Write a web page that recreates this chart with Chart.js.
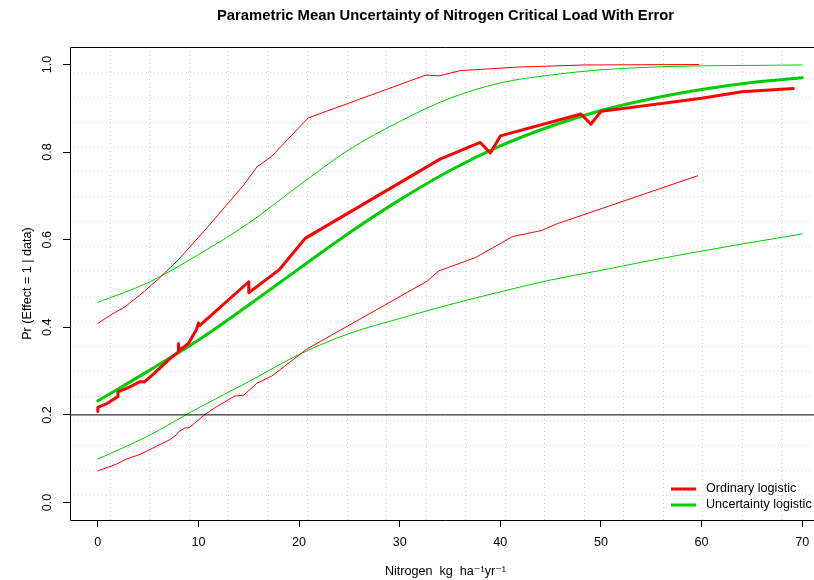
<!DOCTYPE html>
<html>
<head>
<meta charset="utf-8">
<script src="https://cdn.jsdelivr.net/npm/chart.js@4.4.0/dist/chart.umd.min.js"></script>
<style>
  html, body { margin: 0; padding: 0; background: #fff; overflow: hidden; width: 814px; height: 580px; }
  #wrap { width: 814px; height: 580px; overflow: hidden; position: relative; background: #fff; }
  canvas { display: block; position: absolute; left: 0; top: 0; }
</style>
</head>
<body>
<div id="wrap"><canvas id="chart" width="830" height="580"></canvas></div>
<script>
const chartTitle = "Parametric Mean Uncertainty of Nitrogen Critical Load With Error";
const xTitle = "Nitrogen  kg  ha\u207B\u00B9yr\u207B\u00B9";
const yTitle = "Pr (Effect = 1 | data)";
const xTicks = [0, 10, 20, 30, 40, 50, 60, 70];
const yTicks = [0, 0.2, 0.4, 0.6, 0.8, 1.0];
const xRange = [-2.764, 71.864];
const yRange = [-0.04, 1.04];
const gridCells = 19;
const threshold = 0.2;
const legendLabels = ["Ordinary logistic", "Uncertainty logistic"];

// ordinary logistic, [x, y] pairs
const ordMean = [
  [0, 0.208], [0, 0.217], [0.9, 0.226], [2, 0.242], [2, 0.253], [3, 0.262],
  [4.2, 0.276], [4.6, 0.275], [5.6, 0.295], [7.2, 0.329], [8, 0.344], [8, 0.363],
  [8.1, 0.347], [9, 0.363], [9.8, 0.395], [10, 0.41], [10.1, 0.404],
  [15, 0.504], [15, 0.479], [18, 0.531], [20.6, 0.603], [34, 0.784],
  [38, 0.822], [39, 0.798], [40, 0.837], [48, 0.887], [49, 0.864],
  [50, 0.893], [60, 0.923], [64, 0.938], [69.1, 0.945]
];
const ordUpper = [
  [0, 0.409], [1.2, 0.427], [2.7, 0.447], [4.2, 0.474], [6, 0.51], [8, 0.554],
  [10.8, 0.626], [14.5, 0.725], [15.8, 0.766], [17.3, 0.791], [20.9, 0.878],
  [32.6, 0.976], [33.9, 0.974], [36, 0.986], [41.6, 0.994], [48.3, 0.999], [59.7, 1.0]
];
const ordLower = [
  [0, 0.072], [1.9, 0.088], [2.7, 0.098], [4.2, 0.11], [7.2, 0.144], [7.9, 0.156],
  [8, 0.161], [8.65, 0.17], [9.1, 0.171], [10.6, 0.2], [11.6, 0.216], [13.6, 0.243],
  [14.5, 0.245], [15.8, 0.272], [17.3, 0.289], [20.75, 0.35], [32.7, 0.505],
  [33.9, 0.529], [37.5, 0.559], [41.2, 0.607], [44.1, 0.621], [45.6, 0.636], [59.6, 0.746]
];

// uncertainty logistic, read every 5 units
const uncX = [0, 5, 10, 15, 20, 25, 30, 35, 40, 45, 50, 55, 60, 65, 70];
const uncMean = [0.232, 0.30, 0.371, 0.451, 0.534, 0.616, 0.691, 0.758, 0.814, 0.859, 0.895, 0.922, 0.943, 0.959, 0.970];
const uncUpper = [0.457, 0.502, 0.566, 0.638, 0.724, 0.806, 0.870, 0.923, 0.958, 0.976, 0.988, 0.994, 0.997, 0.998, 0.999];
const uncLower = [0.099, 0.152, 0.216, 0.276, 0.338, 0.386, 0.420, 0.452, 0.481, 0.508, 0.530, 0.553, 0.574, 0.594, 0.613];

const RED = "#FF0000";
const GREEN = "#00CD00";
const FONT = "'Liberation Sans', Arial, Helvetica, 'DejaVu Sans', sans-serif";
const FS = 12.6;

const pairs = (arr) => arr.map(([x, y]) => ({ x, y }));
const zipX = (ys) => uncX.map((x, i) => ({ x, y: ys[i] }));

function lineSet(label, data, color, width, smooth) {
  return {
    label,
    data,
    borderColor: color,
    backgroundColor: color,
    borderWidth: width,
    pointRadius: 0,
    fill: false,
    tension: 0,
    cubicInterpolationMode: smooth ? "monotone" : "default",
    borderCapStyle: "round",
    borderJoinStyle: "round",
  };
}

// R-style frame: dotted grid, box, reference line, legend
const framePlugin = {
  id: "frame",
  beforeDatasetsDraw(chart) {
    const { ctx, chartArea: a, scales } = chart;
    const xs = scales.x, ys = scales.y;
    ctx.save();
    ctx.strokeStyle = "#D3D3D3";
    ctx.lineWidth = 1;
    ctx.setLineDash([1, 3]);
    for (let k = 1; k < gridCells; k++) {
      const px = Math.round(xs.getPixelForValue(xRange[0] + k * (xRange[1] - xRange[0]) / gridCells)) + 0.5;
      ctx.beginPath(); ctx.moveTo(px, a.top); ctx.lineTo(px, a.bottom); ctx.stroke();
      const py = Math.round(ys.getPixelForValue(yRange[0] + k * (yRange[1] - yRange[0]) / gridCells)) + 0.5;
      ctx.beginPath(); ctx.moveTo(a.left, py); ctx.lineTo(a.right, py); ctx.stroke();
    }
    ctx.restore();
  },
  afterDatasetsDraw(chart) {
    const { ctx, chartArea: a, scales } = chart;
    ctx.save();
    ctx.strokeStyle = "#000";
    ctx.lineWidth = 1;
    const hy = scales.y.getPixelForValue(threshold);
    ctx.beginPath(); ctx.moveTo(a.left, hy); ctx.lineTo(a.right, hy); ctx.stroke();
    // the right side of the box lies past the visible edge, as in the original
    const l = Math.round(a.left) + 0.5, t = Math.round(a.top) + 0.5;
    const r = Math.round(a.right), b = Math.round(a.bottom) + 0.5;
    ctx.beginPath();
    ctx.moveTo(r, t); ctx.lineTo(l, t); ctx.lineTo(l, b); ctx.lineTo(r, b);
    ctx.stroke();

    // legend, bottom right inside the box
    const colors = [RED, GREEN];
    ctx.font = FS + "px " + FONT;
    ctx.textBaseline = "middle";
    ctx.fillStyle = "#000";
    legendLabels.forEach((lab, i) => {
      const y = a.bottom - 31 + i * 16;
      ctx.strokeStyle = colors[i];
      ctx.lineWidth = 3;
      ctx.beginPath(); ctx.moveTo(a.right - 150, y); ctx.lineTo(a.right - 125, y); ctx.stroke();
      ctx.fillText(lab, a.right - 115, y);
    });
    ctx.restore();
  }
};

new Chart(document.getElementById("chart"), {
  type: "line",
  data: {
    datasets: [
      lineSet("Ordinary logistic", pairs(ordMean), RED, 3, false),
      lineSet("Ordinary upper", pairs(ordUpper), RED, 1, false),
      lineSet("Ordinary lower", pairs(ordLower), RED, 1, false),
      lineSet("Uncertainty logistic", zipX(uncMean), GREEN, 3, true),
      lineSet("Uncertainty upper", zipX(uncUpper), GREEN, 1, true),
      lineSet("Uncertainty lower", zipX(uncLower), GREEN, 1, true),
    ],
  },
  options: {
    responsive: false,
    animation: false,
    devicePixelRatio: 1,
    layout: { padding: { left: 0, right: 9, top: 0, bottom: 0 } },
    plugins: {
      legend: { display: false },
      tooltip: { enabled: false },
      title: {
        display: true,
        text: chartTitle,
        fullSize: false,
        color: "#000",
        font: { family: FONT, size: 14.8, weight: "bold" },
        padding: { top: 7, bottom: 22.24 },
      },
    },
    scales: {
      x: {
        type: "linear",
        min: xRange[0],
        max: xRange[1],
        afterBuildTicks: (s) => { s.ticks = xTicks.map((v) => ({ value: v })); },
        afterFit: (s) => { s.height = 60; },
        border: { display: false },
        grid: { drawOnChartArea: false, drawTicks: true, tickLength: 7, color: "#000" },
        ticks: {
          color: "#000",
          padding: 8,
          maxRotation: 0,
          font: { family: FONT, size: FS },
          callback: (v) => String(v),
        },
        title: {
          display: true,
          text: xTitle,
          color: "#000",
          font: { family: FONT, size: FS },
          padding: { top: 0, bottom: 1 },
        },
      },
      y: {
        type: "linear",
        min: yRange[0],
        max: yRange[1],
        afterBuildTicks: (s) => { s.ticks = yTicks.map((v) => ({ value: v })); },
        afterFit: (s) => { s.width = 70; },
        border: { display: false },
        grid: { drawOnChartArea: false, drawTicks: true, tickLength: 7, color: "#000" },
        ticks: {
          color: "#000",
          padding: 7,
          minRotation: 90,
          maxRotation: 90,
          crossAlign: "center",
          font: { family: FONT, size: FS },
          callback: (v) => v.toFixed(1),
        },
        title: {
          display: true,
          text: yTitle,
          color: "#000",
          font: { family: FONT, size: FS },
          padding: { top: 20.1, bottom: 0 },
        },
      },
    },
  },
  plugins: [framePlugin],
});
</script>
</body>
</html>
